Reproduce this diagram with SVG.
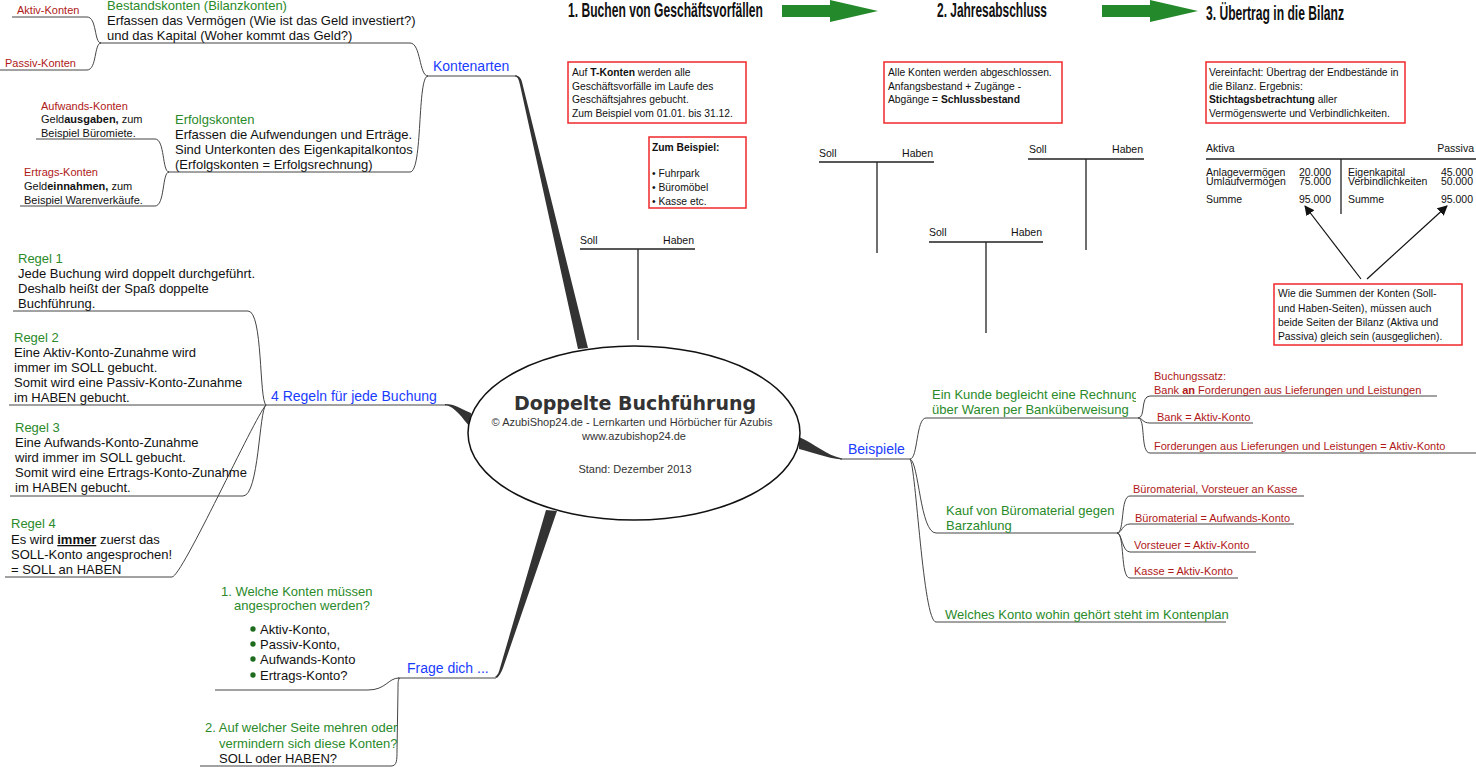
<svg xmlns="http://www.w3.org/2000/svg" width="1476" height="767" viewBox="0 0 1476 767">
<defs>
<style>
text{font-family:"Liberation Sans",Arial,sans-serif}
.m{font-size:13px;fill:#111}
.g{font-size:13px;fill:#2a8a2a}
.bl{font-size:14px;fill:#1a3cff}
.r{font-size:11px;fill:#b01818}
.k{font-size:11px;fill:#111}
.bx{font-size:10.3px;fill:#111}
.ta{font-size:10.5px;fill:#111}
.h{font-size:20px;font-weight:bold;fill:#111}
.ln{fill:none;stroke:#444;stroke-width:1}
.tl{fill:none;stroke:#222;stroke-width:1.3}
.box{fill:#fff;stroke:#f0282c;stroke-width:1.5}
.thick{fill:#333;stroke:none}
.ga{fill:#24892a}
.ell{font-family:"Liberation Sans",Arial,sans-serif;fill:#333}
</style>
<marker id="ah" markerWidth="10" markerHeight="10" refX="9" refY="5" orient="auto" markerUnits="userSpaceOnUse">
<path d="M0,0 L10,5 L0,10 Z" fill="#111"/>
</marker>
<clipPath id="kclip"><rect x="900" y="380" width="236" height="40"/></clipPath>
</defs>
<rect width="1476" height="767" fill="#fff"/>

<!-- connectors -->
<g id="connectors">
<path class="thick" d="M515,75.5 C519,75.5 521,78 522,82 L588,348 L578,349 L520,85 C519,80 518,77 515,76.5 Z"/>
<path class="thick" d="M495,677 C498,675 499,672 500,668 L546,510 L557,511 L503,668 C501,673 499,676 497,678 Z"/>
<path class="thick" d="M445,404 C455,404 461,409 471,413 L470,427 C463,419 455,406 445,405.2 Z"/>
<path class="thick" d="M799,437 C815,444 826,455 842,458.5 L842,459.6 C826,458 812,452 799,449 Z"/>
<path class="ln" d="M427,76 H517"/>
<path class="ln" d="M100,43 H410 C421,43 419,76 428,76"/>
<path class="ln" d="M168,172 H410 C423,172 417,76 428,76"/>
<path class="ln" d="M12,17 H87 C97,17 94,43 101,43"/>
<path class="ln" d="M0,70 H87 C97,70 94,43 101,43"/>
<path class="ln" d="M36,139 H155 C165,139 162,172 169,172"/>
<path class="ln" d="M20,206 H155 C165,206 162,172 169,172"/>
<path class="ln" d="M13,311 H248 C263,311 259,400 266,405"/>
<path class="ln" d="M9,405 H446"/>
<path class="ln" d="M10,496 H243 C259,496 259,410 266,405"/>
<path class="ln" d="M5,577 H172 C182,577 254,418 266,405"/>
<path class="ln" d="M398,678 H496"/>
<path class="ln" d="M215,690 H368 C386,690 388,678 399,678"/>
<path class="ln" d="M200,766 H391 C397,766 397,760 397,750 L398,690 C398,682 398,679 400,678"/>
<path class="ln" d="M840,459 H910"/>
<path class="ln" d="M910,459 C918,459 916,418 926,418 H1138"/>
<path class="ln" d="M910,459 C919,462 920,533 936,533 H1117"/>
<path class="ln" d="M910,459 C916,466 923,622 936,622 H1226"/>
<path class="ln" d="M1138,418 C1146,418 1140,396 1150,396 H1437"/>
<path class="ln" d="M1138,418 C1143,418 1142,423 1150,423 H1253"/>
<path class="ln" d="M1138,418 C1146,418 1140,453 1150,453 H1476"/>
<path class="ln" d="M1117,533 C1125,533 1120,496 1130,496 H1304"/>
<path class="ln" d="M1117,533 C1122,533 1122,524 1130,524 H1294"/>
<path class="ln" d="M1117,533 C1122,533 1122,552 1130,552 H1256"/>
<path class="ln" d="M1117,533 C1125,533 1120,578 1130,578 H1238"/>
<line x1="1361" y1="279" x2="1305" y2="206" stroke="#111" stroke-width="1.2" marker-end="url(#ah)"/>
<line x1="1367" y1="279" x2="1447" y2="206" stroke="#111" stroke-width="1.2" marker-end="url(#ah)"/>
</g>

<!-- center -->
<g id="center">
<ellipse cx="634" cy="433" rx="166" ry="87" fill="#fff" stroke="#111" stroke-width="1.5"/>
<text x="635" y="410" text-anchor="middle" style="font-family:'DejaVu Sans',Verdana,sans-serif;font-size:19px;font-weight:bold;fill:#333">Doppelte Buchführung</text>
<text class="ell" x="632" y="426" text-anchor="middle" font-size="11">© AzubiShop24.de - Lernkarten und Hörbücher für Azubis</text>
<text class="ell" x="634" y="440" text-anchor="middle" font-size="11">www.azubishop24.de</text>
<text class="ell" x="635" y="473" text-anchor="middle" font-size="11">Stand: Dezember 2013</text>
</g>

<!-- headings -->
<g id="heading1"><text class="h" x="568" y="17" textLength="195" lengthAdjust="spacingAndGlyphs">1. Buchen von Geschäftsvorfällen</text></g>
<g id="arrow1"><polygon class="ga" points="782,5 830,5 830,0 878,11 830,22 830,17 782,17"/></g>
<g id="heading2"><text class="h" x="937" y="17" textLength="110" lengthAdjust="spacingAndGlyphs">2. Jahresabschluss</text></g>
<g id="arrow2"><polygon class="ga" points="1102,5 1150,5 1150,0 1198,11 1150,22 1150,17 1102,17"/></g>
<g id="heading3"><text class="h" x="1206" y="20" textLength="138" lengthAdjust="spacingAndGlyphs">3. Übertrag in die Bilanz</text></g>

<!-- boxes -->
<g id="box-tkonten">
<rect class="box" x="568" y="62" width="178" height="61"/>
<text class="bx" x="572" y="76">Auf <tspan font-weight="bold">T-Konten</tspan> werden alle</text>
<text class="bx" x="572" y="90">Geschäftsvorfälle im Laufe des</text>
<text class="bx" x="572" y="103">Geschäftsjahres gebucht.</text>
<text class="bx" x="572" y="117">Zum Beispiel vom 01.01. bis 31.12.</text>
</g>
<g id="box-beispiel">
<rect class="box" x="649" y="137" width="97" height="71"/>
<text class="bx" x="652" y="151" font-weight="bold">Zum Beispiel:</text>
<text class="bx" x="652" y="177">• Fuhrpark</text>
<text class="bx" x="652" y="191">• Büromöbel</text>
<text class="bx" x="652" y="205">• Kasse etc.</text>
</g>
<g id="box-abschluss">
<rect class="box" x="884" y="62" width="178" height="61"/>
<text class="bx" x="888" y="76">Alle Konten werden abgeschlossen.</text>
<text class="bx" x="888" y="90">Anfangsbestand + Zugänge -</text>
<text class="bx" x="888" y="103">Abgänge = <tspan font-weight="bold">Schlussbestand</tspan></text>
</g>
<g id="box-bilanz">
<rect class="box" x="1206" y="62" width="199" height="61"/>
<text class="bx" x="1209" y="76">Vereinfacht: Übertrag der Endbestände in</text>
<text class="bx" x="1209" y="90">die Bilanz. Ergebnis:</text>
<text class="bx" x="1209" y="103"><tspan font-weight="bold">Stichtagsbetrachtung</tspan> aller</text>
<text class="bx" x="1209" y="117">Vermögenswerte und Verbindlichkeiten.</text>
</g>
<g id="box-summen">
<rect class="box" x="1274" y="284" width="188" height="61"/>
<text class="bx" x="1278" y="297">Wie die Summen der Konten (Soll-</text>
<text class="bx" x="1278" y="312">und Haben-Seiten), müssen auch</text>
<text class="bx" x="1278" y="326">beide Seiten der Bilanz (Aktiva und</text>
<text class="bx" x="1278" y="340">Passiva) gleich sein (ausgeglichen).</text>
</g>

<!-- T accounts -->
<g id="tkonto1">
<text class="ta" x="580" y="244">Soll</text><text class="ta" x="694" y="244" text-anchor="end">Haben</text>
<path class="tl" d="M580,249 H695 M638,249 V340"/>
</g>
<g id="tkonto2">
<text class="ta" x="819" y="157">Soll</text><text class="ta" x="933" y="157" text-anchor="end">Haben</text>
<path class="tl" d="M819,162 H934 M877,162 V253"/>
</g>
<g id="tkonto3">
<text class="ta" x="1029" y="153">Soll</text><text class="ta" x="1143" y="153" text-anchor="end">Haben</text>
<path class="tl" d="M1028,159 H1144 M1086,159 V250"/>
</g>
<g id="tkonto4">
<text class="ta" x="929" y="236">Soll</text><text class="ta" x="1042" y="236" text-anchor="end">Haben</text>
<path class="tl" d="M929,242 H1043 M986,242 V333"/>
</g>

<!-- Bilanz -->
<g id="bilanz">
<text class="ta" x="1206" y="152">Aktiva</text>
<text class="ta" x="1474" y="152" text-anchor="end">Passiva</text>
<path class="tl" d="M1206,159 H1476 M1341,159 V214"/>
<text class="ta" x="1206" y="176">Anlagevermögen</text>
<text class="ta" x="1206" y="185">Umlaufvermögen</text>
<text class="ta" x="1206" y="203">Summe</text>
<text class="ta" x="1331" y="176" text-anchor="end">20.000</text>
<text class="ta" x="1331" y="185" text-anchor="end">75.000</text>
<text class="ta" x="1331" y="203" text-anchor="end">95.000</text>
<text class="ta" x="1348" y="176">Eigenkapital</text>
<text class="ta" x="1348" y="185">Verbindlichkeiten</text>
<text class="ta" x="1348" y="203">Summe</text>
<text class="ta" x="1473" y="176" text-anchor="end">45.000</text>
<text class="ta" x="1473" y="185" text-anchor="end">50.000</text>
<text class="ta" x="1473" y="203" text-anchor="end">95.000</text>
</g>

<!-- Kontenarten -->
<g id="kontenarten"><text class="bl" x="433" y="71">Kontenarten</text></g>
<g id="bestandskonten">
<text class="g" x="107" y="10">Bestandskonten (Bilanzkonten)</text>
<text class="m" x="107" y="25">Erfassen das Vermögen (Wie ist das Geld investiert?)</text>
<text class="m" x="107" y="40">und das Kapital (Woher kommt das Geld?)</text>
</g>
<g id="aktiv-konten"><text class="r" x="17" y="14">Aktiv-Konten</text></g>
<g id="passiv-konten"><text class="r" x="5" y="67">Passiv-Konten</text></g>
<g id="erfolgskonten">
<text class="g" x="175" y="124">Erfolgskonten</text>
<text class="m" x="175" y="139">Erfassen die Aufwendungen und Erträge.</text>
<text class="m" x="175" y="154">Sind Unterkonten des Eigenkapitalkontos</text>
<text class="m" x="175" y="169">(Erfolgskonten = Erfolgsrechnung)</text>
</g>
<g id="aufwands-konten">
<text class="r" x="41" y="110">Aufwands-Konten</text>
<text class="k" x="41" y="123">Geld<tspan font-weight="bold">ausgaben,</tspan>  zum</text>
<text class="k" x="41" y="137">Beispiel Büromiete.</text>
</g>
<g id="ertrags-konten">
<text class="r" x="24" y="176">Ertrags-Konten</text>
<text class="k" x="24" y="190">Geld<tspan font-weight="bold">einnahmen,</tspan>  zum</text>
<text class="k" x="24" y="204">Beispiel Warenverkäufe.</text>
</g>

<!-- Regeln -->
<g id="regeln"><text class="bl" x="271" y="401">4 Regeln für jede Buchung</text></g>
<g id="regel1">
<text class="g" x="18" y="263">Regel 1</text>
<text class="m" x="18" y="278">Jede Buchung wird doppelt durchgeführt.</text>
<text class="m" x="18" y="293">Deshalb heißt der Spaß doppelte</text>
<text class="m" x="18" y="308">Buchführung.</text>
</g>
<g id="regel2">
<text class="g" x="14" y="342">Regel 2</text>
<text class="m" x="14" y="357">Eine Aktiv-Konto-Zunahme wird</text>
<text class="m" x="14" y="372">immer im SOLL gebucht.</text>
<text class="m" x="14" y="387">Somit wird eine Passiv-Konto-Zunahme</text>
<text class="m" x="14" y="402">im HABEN gebucht.</text>
</g>
<g id="regel3">
<text class="g" x="15" y="432">Regel 3</text>
<text class="m" x="15" y="447">Eine Aufwands-Konto-Zunahme</text>
<text class="m" x="15" y="462">wird immer im SOLL gebucht.</text>
<text class="m" x="15" y="477">Somit wird eine Ertrags-Konto-Zunahme</text>
<text class="m" x="15" y="492">im HABEN gebucht.</text>
</g>
<g id="regel4">
<text class="g" x="11" y="528">Regel 4</text>
<text class="m" x="11" y="544">Es wird <tspan font-weight="bold" text-decoration="underline">immer</tspan> zuerst das</text>
<text class="m" x="11" y="559">SOLL-Konto angesprochen!</text>
<text class="m" x="11" y="574">= SOLL an HABEN</text>
</g>

<!-- Frage dich -->
<g id="frage"><text class="bl" x="407" y="673">Frage dich ...</text></g>
<g id="frage1">
<text class="g" x="221" y="596">1. Welche Konten müssen</text>
<text class="g" x="234" y="610">angesprochen werden?</text>
<circle cx="253" cy="629" r="2.7" fill="#1e6b1e"/>
<circle cx="253" cy="644" r="2.7" fill="#1e6b1e"/>
<circle cx="253" cy="659" r="2.7" fill="#1e6b1e"/>
<circle cx="253" cy="675" r="2.7" fill="#1e6b1e"/>
<text class="m" x="260" y="634">Aktiv-Konto,</text>
<text class="m" x="260" y="649">Passiv-Konto,</text>
<text class="m" x="260" y="664">Aufwands-Konto</text>
<text class="m" x="260" y="680">Ertrags-Konto?</text>
</g>
<g id="frage2">
<text class="g" x="205" y="732">2. Auf welcher Seite mehren oder</text>
<text class="g" x="219" y="748">vermindern sich diese Konten?</text>
<text class="m" x="219" y="763">SOLL oder HABEN?</text>
</g>

<!-- Beispiele -->
<g id="beispiele"><text class="bl" x="848" y="454">Beispiele</text></g>
<g id="kunde">
<g clip-path="url(#kclip)"><text class="g" x="932" y="399">Ein Kunde begleicht eine Rechnung</text></g>
<text class="g" x="932" y="414">über Waren per Banküberweisung</text>
</g>
<g id="buchungssatz1">
<text class="r" x="1154" y="380">Buchungssatz:</text>
<text class="r" x="1154" y="394">Bank <tspan font-weight="bold">an</tspan> Forderungen aus Lieferungen und Leistungen</text>
</g>
<g id="bank"><text class="r" x="1157" y="421">Bank = Aktiv-Konto</text></g>
<g id="forderungen"><text class="r" x="1154" y="450">Forderungen aus Lieferungen und Leistungen = Aktiv-Konto</text></g>
<g id="kauf">
<text class="g" x="946" y="515">Kauf von Büromaterial gegen</text>
<text class="g" x="946" y="530">Barzahlung</text>
</g>
<g id="buchungssatz2"><text class="r" x="1133" y="493">Büromaterial, Vorsteuer an Kasse</text></g>
<g id="bueromaterial"><text class="r" x="1135" y="522">Büromaterial = Aufwands-Konto</text></g>
<g id="vorsteuer"><text class="r" x="1134" y="549">Vorsteuer = Aktiv-Konto</text></g>
<g id="kasse"><text class="r" x="1134" y="575">Kasse = Aktiv-Konto</text></g>
<g id="kontenplan"><text class="g" x="945" y="619">Welches Konto wohin gehört steht im Kontenplan</text></g>
</svg>
